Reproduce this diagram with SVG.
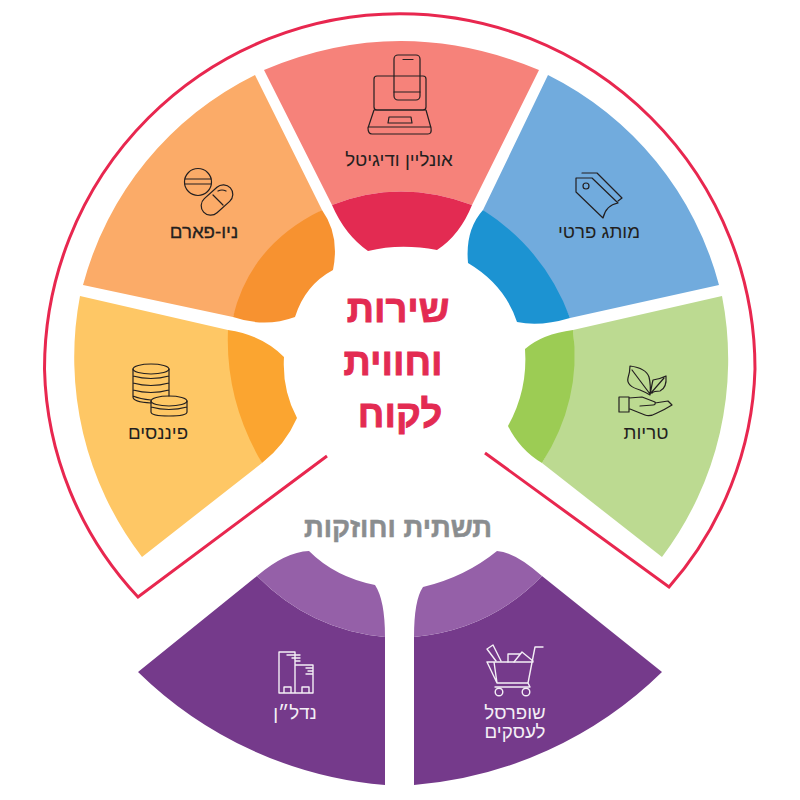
<svg xmlns="http://www.w3.org/2000/svg" width="800" height="800" viewBox="0 0 800 800">
<style>
text{font-family:"Liberation Sans","DejaVu Sans",sans-serif;text-anchor:middle;direction:rtl}
.lbl{font-size:18.700px;fill:#231F20}
.wht{font-size:18.700px;fill:#F4EFF6}
.ttl{font-size:38px;font-weight:bold;fill:#E32B52;stroke:#E32B52;stroke-width:.9px}
.ic{fill:none;stroke:#231F20;stroke-width:1.200;stroke-linejoin:round;stroke-linecap:round}
.iw{fill:none;stroke:#F4EFF6;stroke-width:1.400;stroke-linejoin:round;stroke-linecap:round}
</style>
<rect width="800" height="800" fill="#fff"/>
<g id="connectors">
<path d="M327,456 L138,597 A345,345 0 0 1 44.500,369 A355,355 0 0 1 755,369 A345,345 0 0 1 669,587 L485,453" fill="none" stroke="#E8274F" stroke-width="3"/>
</g>
<g id="node-online">
<path d="M264,70 Q400,12 539,70 L472,205 Q400,178 332,205 Z" fill="#F6827A"/>
<path d="M332,205 Q400,178 472,205 Q460,235 437,250 Q400,243 368,251 Q345,235 332,205 Z" fill="#E32B52"/>
<rect class="ic" x="374" y="76" width="52" height="34" rx="3"/>
<rect class="ic" x="394" y="55" width="26" height="45" rx="4" />
<path class="ic" d="M394,92H420M403,59.500H413M374,110L368,128Q368,134 372,134H428Q432,134 431,128L426,110ZM368,127H431M389,117H411L412,123H388Z"/>
<text class="lbl" x="399" y="166">אונליין ודיגיטל</text>
</g>
<g id="node-private">
<path d="M548,75 A328,328 0 0 1 719,285 L570,318 Q545,262 483,210 Z" fill="#71ABDD"/>
<path d="M483,210 Q545,250 570,318 Q540,327 517,322 Q505,285 468,263 Q465,230 483,210 Z" fill="#1C93D2"/>
<path class="ic" d="M576,178H592L618,203Q606,205 603,218L576,192ZM582,173H597L622,198L618,201"/>
<circle class="ic" cx="586" cy="186" r="3"/>
<text class="lbl" x="599" y="238">מותג פרטי</text>
</g>
<g id="node-pharm">
<path d="M255,75 A328,328 0 0 0 83,285 L233,317 Q258,250 322,210 Z" fill="#FBAB68"/>
<path d="M322,210 Q340,235 333,270 Q305,285 295,317 Q265,328 233,317 Q250,245 322,210 Z" fill="#F79230"/>
<circle class="ic" cx="198" cy="182" r="13.500"/>
<path class="ic" d="M185,179H211M185,184H211M213,195L223,205M218,191Q222,189 226,191"/>
<rect class="ic" x="-18" y="-9.500" width="36" height="19" rx="9.500" transform="translate(217,200) rotate(-42)"/>
<text class="lbl" x="204" y="238" stroke="#231F20" stroke-width=".3">ניו-פארם</text>
</g>
<g id="node-finance">
<path d="M80,296 A328,328 0 0 0 142,557 L262,463 Q232,400 228,330 Z" fill="#FEC765"/>
<path d="M228,330 Q262,335 284,357 Q282,390 297,418 Q285,445 262,463 Q225,400 228,330 Z" fill="#FBA530"/>
<ellipse class="ic" cx="151" cy="369" rx="18" ry="5"/>
<path class="ic" d="M133,369V397Q133,402 151,403M169,369V396M133,376Q151,381 169,376M133,383Q151,388 169,383M133,390Q151,395 169,390M133,396Q140,399 151,400"/>
<ellipse class="ic" cx="169" cy="401" rx="18" ry="5"/>
<path class="ic" d="M151,401V412Q151,416 169,416Q187,416 187,412V401M151,407Q169,412 187,407"/>
<text class="lbl" x="158" y="439">פיננסים</text>
</g>
<g id="node-fresh">
<path d="M722,296 A328,328 0 0 1 662,557 L542,463 Q578,400 573,330 Z" fill="#BCDA91"/>
<path d="M573,330 Q542,334 525,349 Q528,390 508,426 Q520,450 542,463 Q582,400 573,330 Z" fill="#9CCC54"/>
<path class="ic" d="M630,366Q646,368 649,377Q651,385 650,395Q645,392 640,390Q626,386 628,378Q630,372 630,366ZM632,370L650,394M650,395Q652,384 653,380Q660,379 666,376Q667,388 660,391Q654,391 652,393M664,378L651,393"/>
<path class="ic" d="M619,397H629V412H619ZM629,398L642,397L655,402Q656,405 653,405L640,406M655,403L668,401L672,405Q664,410 657,413Q650,417 645,415L630,409"/>
<text class="lbl" x="646" y="439">טריות</text>
</g>
<g id="title">
<text class="ttl" x="398" y="322">שירות</text>
<text class="ttl" x="393" y="375">וחווית</text>
<text class="ttl" x="400" y="427">לקוח</text>
</g>
<text id="infra-title" x="398" y="537" font-size="27.500" font-weight="bold" fill="#8A8D8F" stroke="#8A8D8F" stroke-width=".5">תשתית וחוזקות</text>
<g id="node-realestate">
<path d="M138,672 L257,576 Q310,630 385,637 V785 A400,400 0 0 1 138,672 Z" fill="#753A8B"/>
<path d="M257,576 Q285,552 309,551 Q335,577 375,585 Q385,600 385,637 Q310,630 257,576 Z" fill="#9560A8"/>
<path class="iw" d="M295,665V652H279V693H313V665H295V693M284,693V687H291V693M302,693V687H309V693M287,655H300M292,658H300M296,661H300M306,668H313M308,671H313M306,674H313"/>
<text class="wht" x="295" y="719">נדל״ן</text>
</g>
<g id="node-business">
<path d="M662,672 L542,576 Q490,630 414,637 V785 A400,400 0 0 0 662,672 Z" fill="#753A8B"/>
<path d="M542,576 Q515,552 497,551 Q465,577 423,587 Q414,600 414,637 Q490,630 542,576 Z" fill="#9560A8"/>
<path class="iw" d="M543,647H535L528,683H497L487,662H533M495,687H530M494,662L497,683M528,683L530,687"/>
<path class="iw" d="M487,649L493,645L501,661M487,649L496,661M508,662V654H520M514,662L522,652L533,661"/>
<circle class="iw" cx="499" cy="692" r="3.800"/>
<circle class="iw" cx="526" cy="692" r="3.800"/>
<text class="wht" x="515" y="719">שופרסל</text>
<text class="wht" x="515" y="738">לעסקים</text>
</g>
</svg>
